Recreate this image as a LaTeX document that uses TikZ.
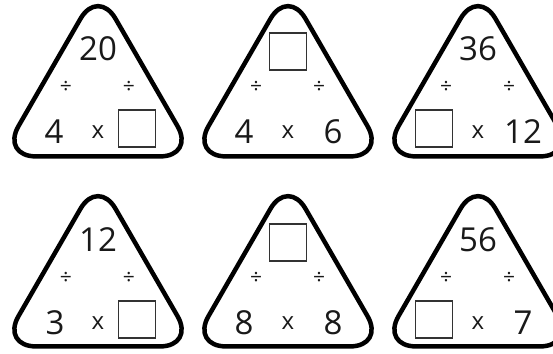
\documentclass[tikz,border=0pt]{standalone}
\usepackage{fontspec}
\setmainfont{Open Sans}
\begin{document}
\begin{tikzpicture}[x=1pt,y=-1pt,
  tri/.style={line width=4.5pt,line join=round,rounded corners=35pt},
  num/.style={inner sep=0pt,text=black!90,font=\fontsize{33}{33}\selectfont},
  op/.style={inner sep=0pt,text=black!90,font=\fontsize{24}{24}\selectfont},
  dv/.style={inner sep=0pt,text=black!90,font=\fontsize{21}{21}\selectfont},
  blank/.style={draw=black!80,line width=1.3pt,minimum size=37pt,inner sep=0pt}]
\path[use as bounding box,fill=white] (0,0) rectangle (553,353);
% top row
\begin{scope}[shift={(98,0)}]
\draw[tri] (0,156.4) -- (97,156.4) -- (0,-11.6) -- (-97,156.4) -- cycle;
\node[num] (a-top) at (0,48.5) {20};
\node[dv] (a-dl) at (-32,87) {÷};
\node[dv] (a-dr) at (31,87) {÷};
\node[num] (a-left) at (-44,132) {4};
\node[op] (a-times) at (0,132) {x};
\node[blank] (a-right) at (39,128.5) {};
\end{scope}
\begin{scope}[shift={(288,0)}]
\draw[tri] (0,156.4) -- (97,156.4) -- (0,-11.6) -- (-97,156.4) -- cycle;
\node[blank] (b-top) at (0,51.5) {};
\node[dv] (b-dl) at (-32,87) {÷};
\node[dv] (b-dr) at (31,87) {÷};
\node[num] (b-left) at (-44,132) {4};
\node[op] (b-times) at (0,132) {x};
\node[num] (b-right) at (45,132) {6};
\end{scope}
\begin{scope}[shift={(478,0)}]
\draw[tri] (0,156.4) -- (97,156.4) -- (0,-11.6) -- (-97,156.4) -- cycle;
\node[num] (c-top) at (0,48.5) {36};
\node[dv] (c-dl) at (-32,87) {÷};
\node[dv] (c-dr) at (31,87) {÷};
\node[blank] (c-left) at (-44,128.5) {};
\node[op] (c-times) at (0,132) {x};
\node[num] (c-right) at (45,132) {12};
\end{scope}
% bottom row
\begin{scope}[shift={(98,190)}]
\draw[tri] (0,156.4) -- (97,156.4) -- (0,-11.6) -- (-97,156.4) -- cycle;
\node[num] (d-top) at (0,49.5) {12};
\node[dv] (d-dl) at (-32,88) {÷};
\node[dv] (d-dr) at (31,88) {÷};
\node[num] (d-left) at (-43,133) {3};
\node[op] (d-times) at (0,133) {x};
\node[blank] (d-right) at (39,129.5) {};
\end{scope}
\begin{scope}[shift={(288,190)}]
\draw[tri] (0,156.4) -- (97,156.4) -- (0,-11.6) -- (-97,156.4) -- cycle;
\node[blank] (e-top) at (0,52.5) {};
\node[dv] (e-dl) at (-32,88) {÷};
\node[dv] (e-dr) at (31,88) {÷};
\node[num] (e-left) at (-44,133) {8};
\node[op] (e-times) at (0,133) {x};
\node[num] (e-right) at (45,133) {8};
\end{scope}
\begin{scope}[shift={(478,190)}]
\draw[tri] (0,156.4) -- (97,156.4) -- (0,-11.6) -- (-97,156.4) -- cycle;
\node[num] (f-top) at (0,49.5) {56};
\node[dv] (f-dl) at (-32,88) {÷};
\node[dv] (f-dr) at (31,88) {÷};
\node[blank] (f-left) at (-44,129.5) {};
\node[op] (f-times) at (0,133) {x};
\node[num] (f-right) at (45,133) {7};
\end{scope}
\end{tikzpicture}
\end{document}
